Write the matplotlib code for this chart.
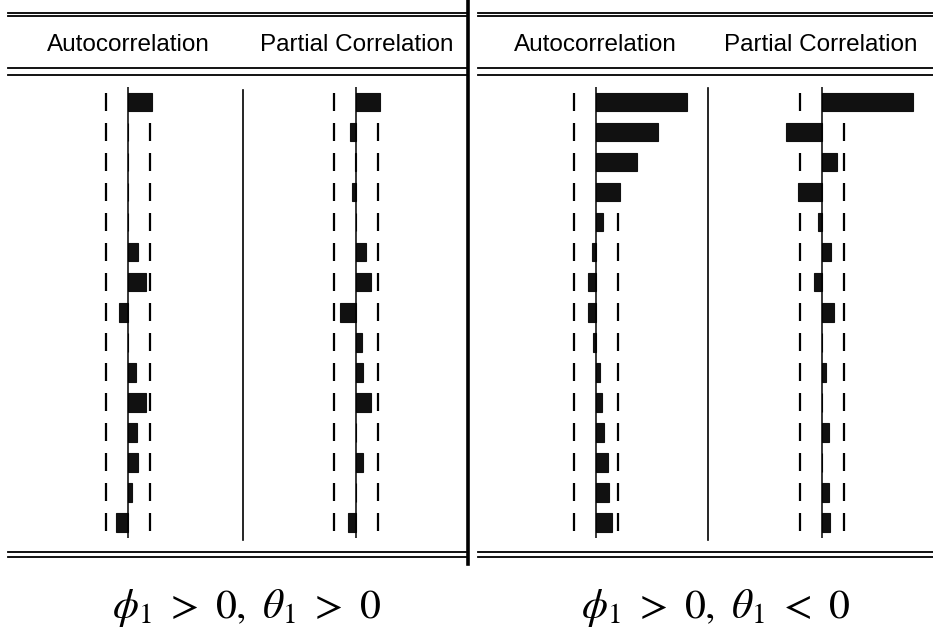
import numpy as np
import matplotlib
matplotlib.use('Agg')
from matplotlib import pyplot as plt
from matplotlib.lines import Line2D

#######################################
# Correlogram values (lags 1..15)
#######################################

lags = np.arange(1, 16)

# phi1 > 0, theta1 > 0
acf_left = [0.21, 0.0, 0.0, 0.0, 0.0, 0.09, 0.16, -0.08, 0.0, 0.07, 0.16, 0.08, 0.09, 0.04, -0.11]
pacf_left = [0.21, -0.05, -0.01, -0.04, 0.0, 0.09, 0.13, -0.14, 0.05, 0.06, 0.13, 0.0, 0.06, 0.0, -0.07]

# phi1 > 0, theta1 < 0
acf_right = [0.81, 0.55, 0.37, 0.21, 0.06, -0.04, -0.07, -0.07, -0.03, 0.04, 0.05, 0.07, 0.11, 0.12, 0.14]
pacf_right = [0.81, -0.32, 0.13, -0.21, -0.04, 0.08, -0.07, 0.11, 0.0, 0.04, 0.0, 0.06, 0.0, 0.06, 0.07]

# 2/sqrt(T) confidence band
band = 0.2

headers = ["Autocorrelation", "Partial Correlation"]
captions = [r'$\phi_1\ >\ 0,\ \theta_1\ >\ 0$', r'$\phi_1\ >\ 0,\ \theta_1\ <\ 0$']

#######################################
# Figure in pixel units
#######################################

W, H = 933, 632
fig = plt.figure(figsize=(W / 100, H / 100), dpi=100)
plt.rcParams['mathtext.fontset'] = 'stix'


def px_axes(x0, y0, x1, y1):
    return fig.add_axes([x0 / W, 1 - y1 / H, (x1 - x0) / W, (y1 - y0) / H])


def hline(x0, x1, y, lw=1.2):
    fig.add_artist(Line2D([x0 / W, x1 / W], [1 - y / H, 1 - y / H], color='k', lw=lw))


def vline(x, y0, y1, lw=1.2):
    fig.add_artist(Line2D([x / W, x / W], [1 - y0 / H, 1 - y1 / H], color='k', lw=lw))


# one axes per correlogram column, centred on its zero line
scale = 112
columns = [(acf_left, 128), (pacf_left, 356), (acf_right, 596), (pacf_right, 822)]

for vals, zero in columns:
    ax = px_axes(zero - scale, 87, zero + scale, 538)
    ax.vlines(np.full(len(lags), -band), lags - 0.3, lags + 0.3, color='k', lw=1.6, zorder=1)
    ax.vlines(np.full(len(lags), band), lags - 0.3, lags + 0.3, color='k', lw=1.6, zorder=1)
    ax.barh(lags, vals, height=0.63, color='#111111', edgecolor='#111111', lw=0.8, zorder=3)
    ax.axvline(0, color='k', lw=1.1, zorder=4)
    ax.set_xlim(-1, 1)
    ax.set_ylim(lags[-1] + 0.53, lags[0] - 0.5)
    ax.axis('off')

# table rules
for x0, x1 in [(8, 466), (478, 933)]:
    hline(x0, x1, 12.5, 1.3)
    hline(x0, x1, 16, 1.3)
    hline(x0, x1, 68, 1.3)
    hline(x0, x1, 75, 1.3)
    hline(x0, x1, 552, 1.3)
    hline(x0, x1, 557, 1.3)

vline(468, 0, 564, 2.6)
vline(243, 90, 540, 1.2)
vline(708, 88, 540, 1.2)

# column headers
for xc, text in zip([128, 357, 595, 821], headers * 2):
    fig.text(xc / W, 1 - 45 / H, text, ha='center', va='center',
             family='Liberation Sans', fontsize=17.5)

# panel captions
for xc, text in zip([247, 716], captions):
    fig.text(xc / W, 1 - 618 / H, text, ha='center', va='baseline', fontsize=30)

plt.savefig('out.png', dpi=100)
